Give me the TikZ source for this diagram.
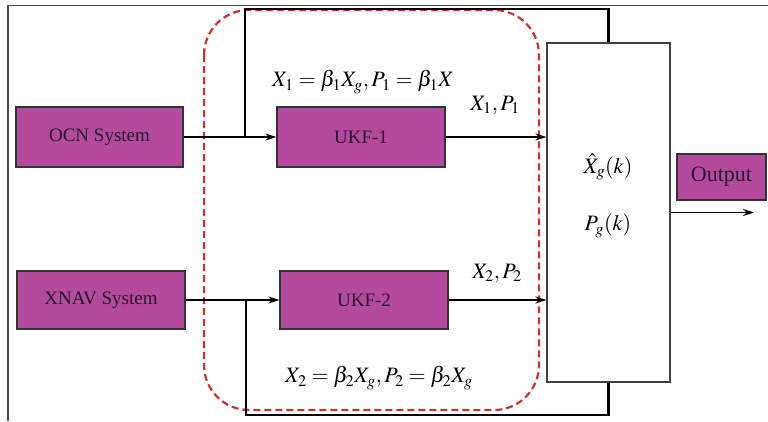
\documentclass[tikz,border=0pt]{standalone}
\usepackage{mathptmx}
\usepackage{fontspec}
\setmainfont{Liberation Serif}
\usetikzlibrary{arrows.meta}
\definecolor{boxfill}{RGB}{180,74,158}
\definecolor{dashred}{RGB}{200,52,48}
\definecolor{boxtext}{RGB}{40,20,50}
\begin{document}
\begin{tikzpicture}[x=1pt,y=-1pt,
  sysbox/.style={draw=black!80,line width=1.2pt,fill=boxfill,inner sep=0pt,
    font=\fontsize{19}{21}\selectfont,text=boxtext},
  fusbox/.style={draw=black!75,line width=1.2pt,fill=white,inner sep=0pt},
  flow/.style={line width=1.6pt,-{Stealth[length=11pt,width=7pt]}},
  fb/.style={line width=2.2pt},
  lbl/.style={inner sep=0pt,font=\fontsize{22}{24}\selectfont},
  frame/.style={draw=black!70,line width=1.2pt},
  group/.style={draw=dashred,line width=2.2pt,dash pattern=on 7pt off 4pt,rounded corners=45pt}]
\useasboundingbox (0,0) rectangle (768,421);
\fill[white] (0,0) rectangle (768,421);
\draw[frame] (8,421) -- (8,5.5) -- (768,5.5);
% group
\draw[group] (204,10) rectangle (539,410);
% boxes
\node[sysbox,minimum width=167pt,minimum height=60pt] (ocn) at (99.5,137) {OCN System};
\node[sysbox,minimum width=168pt,minimum height=60pt] (ukf1) at (361,137) {UKF-1};
\node[sysbox,minimum width=168pt,minimum height=58pt] (xnav) at (101,300) {XNAV System};
\node[sysbox,minimum width=168pt,minimum height=58pt] (ukf2) at (364,300) {UKF-2};
\node[fusbox,minimum width=123pt,minimum height=339pt] (fus) at (608.5,212.5) {};
\node[sysbox,minimum width=89pt,minimum height=46pt,font=\fontsize{22}{24}\selectfont] (out) at (721.5,177) {Output};
% coordinates
\coordinate (j1) at (245,137);
\coordinate (t1) at (245,9);
\coordinate (j2) at (246,300);
\coordinate (b2) at (246,415);
\coordinate (oend) at (754,212.5);
% arrows
\draw[flow] (ocn.east) -- (ukf1.west);
\draw[flow] (xnav.east) -- (ukf2.west);
\draw[flow] (ukf1.east) -- (ukf1.east -| fus.west);
\draw[flow] (ukf2.east) -- (ukf2.east -| fus.west);
\draw[flow] (fus.east) -- (oend);
% feedback
\draw[fb] (fus.north) |- (t1) -- (j1);
\draw[fb] (fus.south) |- (b2) -- (j2);
% labels
\node[lbl] (l1) at (363,82) {$X_1=\beta_1X_g, P_1=\beta_1X$};
\node[lbl] (l2) at (495,105) {$X_1, P_1$};
\node[lbl] (l3) at (497,273) {$X_2, P_2$};
\node[lbl] (l4) at (379,378) {$X_2=\beta_2X_g, P_2=\beta_2X_g$};
\node[lbl] (l5) at (608,167) {$\hat{X}_g(k)$};
\node[lbl] (l6) at (608,226) {$P_g(k)$};
\end{tikzpicture}
\end{document}
